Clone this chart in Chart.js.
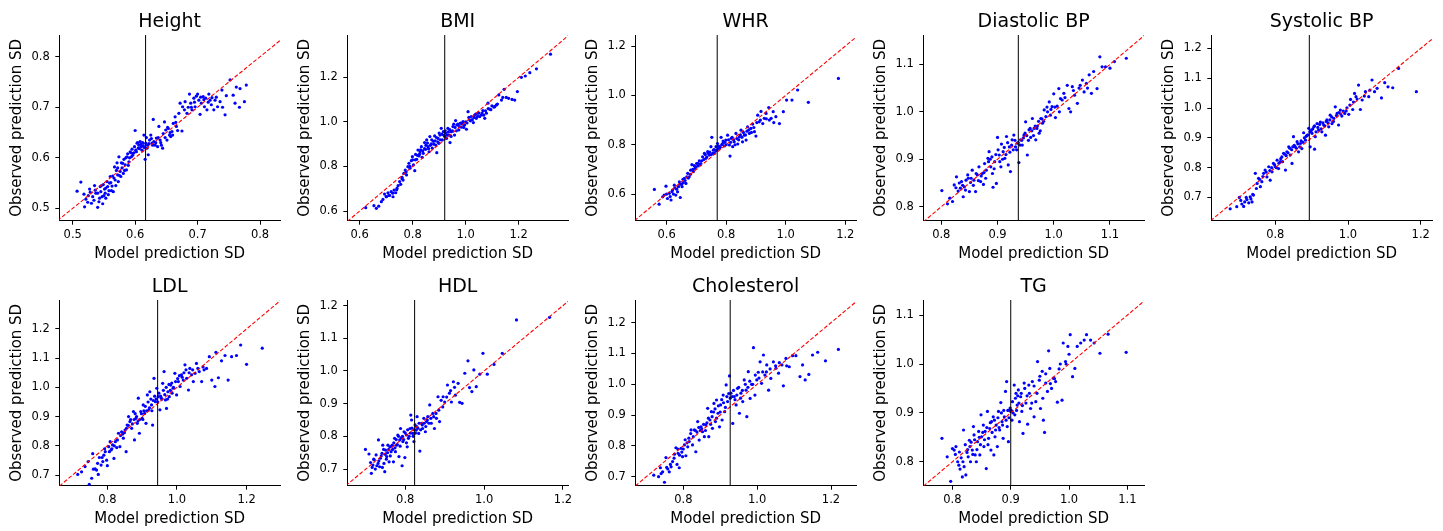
<!DOCTYPE html>
<html>
<head>
<meta charset="utf-8">
<script src="https://cdn.jsdelivr.net/npm/chart.js@4.4.0/dist/chart.umd.min.js"></script>
<style>
  body { margin: 0; background: #fff; width: 1443px; height: 531px; position: relative; overflow: hidden; }
  canvas { position: absolute; }
</style>
</head>
<body>
<script>
// Scatter points: [model SD, observed SD]
const heightPts = [[0.507,0.534],[0.513,0.552],[0.519,0.503],[0.518,0.528],[0.521,0.518],[0.524,0.512],[0.527,0.538],[0.528,0.532],[0.532,0.523],[0.534,0.516],[0.536,0.536],[0.537,0.530],[0.540,0.502],[0.542,0.513],[0.544,0.543],[0.545,0.533],[0.547,0.523],[0.548,0.509],[0.549,0.547],[0.551,0.538],[0.552,0.530],[0.553,0.520],[0.555,0.553],[0.556,0.543],[0.558,0.535],[0.560,0.563],[0.561,0.551],[0.563,0.544],[0.564,0.564],[0.565,0.533],[0.567,0.582],[0.568,0.556],[0.570,0.575],[0.571,0.590],[0.572,0.566],[0.573,0.553],[0.574,0.602],[0.576,0.573],[0.577,0.563],[0.579,0.580],[0.580,0.589],[0.581,0.569],[0.582,0.597],[0.584,0.586],[0.586,0.576],[0.587,0.602],[0.588,0.608],[0.590,0.592],[0.592,0.612],[0.594,0.602],[0.595,0.617],[0.597,0.609],[0.599,0.622],[0.600,0.654],[0.602,0.612],[0.603,0.629],[0.605,0.619],[0.606,0.625],[0.608,0.632],[0.610,0.622],[0.611,0.615],[0.613,0.624],[0.614,0.645],[0.616,0.597],[0.617,0.629],[0.619,0.619],[0.621,0.606],[0.623,0.635],[0.625,0.645],[0.627,0.629],[0.629,0.676],[0.630,0.632],[0.632,0.625],[0.634,0.639],[0.636,0.622],[0.638,0.662],[0.640,0.635],[0.642,0.625],[0.644,0.619],[0.645,0.648],[0.647,0.671],[0.649,0.655],[0.651,0.635],[0.653,0.658],[0.655,0.645],[0.657,0.642],[0.659,0.652],[0.661,0.668],[0.664,0.681],[0.666,0.662],[0.668,0.654],[0.670,0.688],[0.672,0.708],[0.675,0.653],[0.676,0.701],[0.679,0.695],[0.680,0.711],[0.683,0.688],[0.685,0.700],[0.687,0.726],[0.689,0.708],[0.691,0.695],[0.694,0.718],[0.696,0.701],[0.698,0.722],[0.700,0.726],[0.702,0.714],[0.704,0.686],[0.706,0.708],[0.709,0.721],[0.711,0.701],[0.713,0.718],[0.715,0.695],[0.718,0.726],[0.720,0.714],[0.723,0.719],[0.726,0.695],[0.728,0.714],[0.732,0.701],[0.736,0.711],[0.739,0.734],[0.744,0.685],[0.746,0.723],[0.752,0.754],[0.757,0.724],[0.760,0.708],[0.768,0.737],[0.775,0.711],[0.778,0.744],
  [0.525,0.525],[0.530,0.510],[0.535,0.545],[0.540,0.530],[0.543,0.520],[0.546,0.545],[0.550,0.525],[0.553,0.540],[0.557,0.527],[0.559,0.550],[0.562,0.535],[0.566,0.560],[0.569,0.545],[0.572,0.580],[0.575,0.565],[0.578,0.590],[0.583,0.575],[0.585,0.600],[0.589,0.585],[0.591,0.600],[0.593,0.610],[0.596,0.605],[0.598,0.610],[0.601,0.615],[0.604,0.630],[0.607,0.618],[0.609,0.627],[0.612,0.630],[0.615,0.620],[0.618,0.640],[0.620,0.625],[0.622,0.628],[0.626,0.638],[0.628,0.625],[0.633,0.630],[0.637,0.640],[0.641,0.630],[0.648,0.640],[0.652,0.660],[0.656,0.650],[0.660,0.645],[0.665,0.670],[0.690,0.700],[0.695,0.710],[0.705,0.720],[0.710,0.715],[0.717,0.710],[0.722,0.705],[0.730,0.720],[0.740,0.700],[0.762,0.740],[0.767,0.700]];
const bmiPts = [[0.623,0.615],[0.654,0.624],[0.663,0.612],[0.672,0.622],[0.682,0.642],[0.688,0.652],[0.694,0.676],[0.701,0.664],[0.707,0.682],[0.713,0.670],[0.719,0.687],[0.726,0.664],[0.730,0.694],[0.736,0.682],[0.741,0.702],[0.745,0.714],[0.751,0.732],[0.755,0.720],[0.760,0.751],[0.764,0.739],[0.767,0.769],[0.772,0.784],[0.777,0.762],[0.782,0.799],[0.786,0.814],[0.790,0.792],[0.795,0.826],[0.799,0.844],[0.803,0.807],[0.808,0.781],[0.811,0.854],[0.815,0.832],[0.820,0.874],[0.824,0.847],[0.828,0.866],[0.833,0.889],[0.836,0.841],[0.840,0.859],[0.845,0.907],[0.849,0.877],[0.853,0.919],[0.858,0.889],[0.862,0.866],[0.865,0.934],[0.870,0.901],[0.874,0.882],[0.878,0.913],[0.883,0.937],[0.887,0.896],[0.891,0.862],[0.896,0.926],[0.899,0.904],[0.903,0.941],[0.908,0.971],[0.912,0.919],[0.916,0.956],[0.921,0.934],[0.925,0.949],[0.928,0.926],[0.933,0.971],[0.937,0.941],[0.941,0.907],[0.946,0.956],[0.952,0.979],[0.958,0.941],[0.962,1.006],[0.967,0.986],[0.974,0.964],[0.979,0.994],[0.984,0.976],[0.990,1.001],[0.996,0.986],[1.003,0.967],[1.009,1.046],[1.015,1.009],[1.021,1.024],[1.029,0.997],[1.034,1.031],[1.040,1.016],[1.047,1.039],[1.053,1.024],[1.059,1.031],[1.065,1.051],[1.072,1.016],[1.078,1.039],[1.084,1.084],[1.091,1.057],[1.099,1.072],[1.107,1.066],[1.116,1.076],[1.125,1.121],[1.135,1.098],[1.145,1.146],[1.153,1.110],[1.162,1.106],[1.175,1.101],[1.185,1.098],[1.195,1.136],[1.210,1.200],[1.225,1.206],[1.242,1.221],[1.267,1.238],[1.320,1.304],
  [0.700,0.665],[0.710,0.670],[0.725,0.680],[0.740,0.695],[0.760,0.745],[0.775,0.775],[0.790,0.800],[0.800,0.830],[0.810,0.830],[0.818,0.850],[0.826,0.855],[0.830,0.875],[0.838,0.870],[0.845,0.880],[0.850,0.895],[0.856,0.905],[0.860,0.880],[0.867,0.895],[0.872,0.920],[0.880,0.900],[0.885,0.915],[0.890,0.930],[0.895,0.910],[0.900,0.950],[0.905,0.920],[0.910,0.945],[0.918,0.940],[0.923,0.960],[0.930,0.940],[0.935,0.955],[0.940,0.965],[0.945,0.935],[0.950,0.960],[0.955,0.990],[0.960,0.975],[0.965,0.960],[0.970,0.990],[0.976,0.980],[0.982,0.995],[0.988,0.990],[0.993,0.975],[1.000,1.000],[1.005,0.995],[1.012,1.020],[1.018,1.005],[1.025,1.010],[1.032,1.020],[1.038,1.035],[1.045,1.025],[1.050,1.040],[1.062,1.040],[1.068,1.030],[1.075,1.050],[1.085,1.060],[1.095,1.055],[1.110,1.070],[1.120,1.080],[1.140,1.110]];
const whrPts = [[0.559,0.619],[0.575,0.559],[0.587,0.589],[0.592,0.596],[0.598,0.632],[0.603,0.582],[0.609,0.603],[0.615,0.576],[0.620,0.616],[0.626,0.636],[0.631,0.596],[0.637,0.609],[0.643,0.650],[0.646,0.586],[0.652,0.630],[0.656,0.646],[0.660,0.664],[0.665,0.643],[0.671,0.684],[0.676,0.670],[0.681,0.697],[0.685,0.719],[0.690,0.691],[0.695,0.704],[0.701,0.724],[0.705,0.714],[0.710,0.735],[0.715,0.724],[0.721,0.751],[0.727,0.765],[0.732,0.745],[0.738,0.772],[0.743,0.758],[0.749,0.792],[0.752,0.830],[0.757,0.778],[0.761,0.765],[0.766,0.792],[0.771,0.805],[0.777,0.785],[0.783,0.830],[0.788,0.805],[0.794,0.795],[0.799,0.819],[0.805,0.839],[0.811,0.799],[0.813,0.754],[0.817,0.826],[0.822,0.792],[0.827,0.812],[0.833,0.846],[0.839,0.803],[0.844,0.832],[0.850,0.859],[0.855,0.812],[0.861,0.839],[0.867,0.819],[0.872,0.873],[0.878,0.846],[0.883,0.866],[0.889,0.884],[0.895,0.853],[0.900,0.835],[0.906,0.920],[0.911,0.893],[0.917,0.935],[0.923,0.886],[0.928,0.907],[0.934,0.927],[0.943,0.951],[0.951,0.907],[0.958,0.934],[0.967,0.914],[0.979,0.886],[0.992,0.934],[1.003,0.981],[1.021,0.981],[1.040,1.022],[1.076,0.972],[1.177,1.069],
  [0.600,0.600],[0.612,0.590],[0.618,0.610],[0.623,0.600],[0.628,0.625],[0.634,0.620],[0.640,0.630],[0.645,0.640],[0.650,0.640],[0.655,0.660],[0.662,0.655],[0.668,0.670],[0.673,0.665],[0.680,0.680],[0.688,0.700],[0.693,0.715],[0.698,0.710],[0.705,0.725],[0.712,0.720],[0.718,0.735],[0.725,0.740],[0.730,0.760],[0.735,0.750],[0.740,0.765],[0.745,0.770],[0.750,0.760],[0.755,0.765],[0.760,0.780],[0.765,0.775],[0.770,0.780],[0.775,0.795],[0.780,0.790],[0.785,0.800],[0.790,0.815],[0.796,0.810],[0.800,0.800],[0.808,0.820],[0.815,0.810],[0.820,0.830],[0.825,0.820],[0.830,0.800],[0.836,0.825],[0.842,0.820],[0.848,0.840],[0.853,0.830],[0.858,0.850],[0.865,0.840],[0.870,0.855],[0.876,0.860],[0.885,0.850],[0.893,0.870],[0.903,0.890],[0.915,0.900],[0.935,0.905],[0.945,0.900],[0.960,0.890]];
const diaPts = [[0.801,0.834],[0.811,0.806],[0.815,0.818],[0.820,0.811],[0.823,0.846],[0.827,0.863],[0.830,0.833],[0.834,0.839],[0.836,0.853],[0.839,0.821],[0.841,0.842],[0.844,0.856],[0.847,0.867],[0.850,0.832],[0.852,0.851],[0.855,0.877],[0.858,0.856],[0.861,0.832],[0.864,0.867],[0.867,0.884],[0.870,0.853],[0.873,0.870],[0.875,0.847],[0.877,0.891],[0.880,0.877],[0.883,0.902],[0.885,0.916],[0.888,0.884],[0.891,0.870],[0.892,0.841],[0.895,0.895],[0.898,0.849],[0.900,0.946],[0.903,0.909],[0.906,0.884],[0.907,0.932],[0.910,0.916],[0.913,0.902],[0.916,0.948],[0.919,0.888],[0.921,0.926],[0.923,0.874],[0.926,0.941],[0.929,0.951],[0.932,0.926],[0.935,0.934],[0.938,0.893],[0.941,0.941],[0.944,0.930],[0.947,0.951],[0.950,0.979],[0.953,0.909],[0.956,0.962],[0.959,0.946],[0.962,0.986],[0.965,0.965],[0.968,0.941],[0.971,0.970],[0.974,0.955],[0.977,0.986],[0.980,0.976],[0.983,1.004],[0.986,0.990],[0.989,1.000],[0.992,1.021],[0.994,0.993],[0.997,1.011],[1.000,1.038],[1.003,0.988],[1.006,1.012],[1.009,1.049],[1.012,1.028],[1.015,1.025],[1.018,1.039],[1.024,1.056],[1.027,1.007],[1.030,1.000],[1.033,1.053],[1.037,1.035],[1.042,1.018],[1.047,1.056],[1.051,1.067],[1.054,1.042],[1.058,1.060],[1.063,1.078],[1.067,1.039],[1.071,1.085],[1.077,1.049],[1.082,1.116],[1.086,1.095],[1.092,1.095],[1.100,1.092],[1.108,1.106],[1.129,1.113],
  [0.826,0.840],[0.832,0.850],[0.838,0.845],[0.843,0.835],[0.848,0.860],[0.853,0.860],[0.857,0.845],[0.862,0.870],[0.866,0.855],[0.871,0.865],[0.876,0.872],[0.879,0.860],[0.884,0.895],[0.887,0.900],[0.890,0.905],[0.894,0.880],[0.897,0.910],[0.901,0.920],[0.904,0.895],[0.909,0.900],[0.912,0.925],[0.915,0.910],[0.918,0.935],[0.922,0.915],[0.925,0.930],[0.928,0.920],[0.931,0.940],[0.934,0.920],[0.937,0.935],[0.940,0.930],[0.943,0.940],[0.946,0.945],[0.949,0.955],[0.952,0.950],[0.955,0.940],[0.958,0.965],[0.961,0.960],[0.964,0.950],[0.967,0.970],[0.970,0.965],[0.973,0.980],[0.976,0.960],[0.979,0.985],[0.982,0.980],[0.988,1.010],[0.995,1.005],[1.002,1.010],[1.010,1.000],[1.020,1.030],[1.035,1.045],[1.045,1.050],[1.060,1.050]];
const sysPts = [[0.676,0.662],[0.694,0.669],[0.701,0.700],[0.708,0.678],[0.716,0.685],[0.722,0.693],[0.727,0.682],[0.731,0.702],[0.736,0.685],[0.740,0.708],[0.745,0.781],[0.750,0.747],[0.754,0.764],[0.759,0.736],[0.763,0.753],[0.768,0.781],[0.772,0.792],[0.777,0.769],[0.782,0.803],[0.786,0.758],[0.791,0.786],[0.795,0.814],[0.800,0.803],[0.805,0.825],[0.809,0.797],[0.814,0.820],[0.818,0.836],[0.823,0.848],[0.828,0.792],[0.832,0.853],[0.837,0.870],[0.841,0.842],[0.846,0.814],[0.850,0.904],[0.855,0.870],[0.860,0.887],[0.864,0.853],[0.869,0.881],[0.873,0.864],[0.878,0.917],[0.883,0.892],[0.887,0.908],[0.892,0.932],[0.896,0.870],[0.901,0.915],[0.906,0.937],[0.908,0.862],[0.910,0.904],[0.915,0.948],[0.919,0.926],[0.924,0.953],[0.928,0.920],[0.933,0.943],[0.938,0.909],[0.942,0.960],[0.947,0.937],[0.951,0.976],[0.956,0.948],[0.961,0.965],[0.965,1.004],[0.970,0.982],[0.974,0.943],[0.979,0.993],[0.983,0.973],[0.991,0.982],[0.997,1.001],[1.002,0.979],[1.007,1.029],[1.013,0.995],[1.018,1.049],[1.022,1.038],[1.029,1.077],[1.034,0.995],[1.039,1.027],[1.048,1.055],[1.057,1.038],[1.066,1.094],[1.073,1.055],[1.080,1.066],[1.092,1.034],[1.101,1.085],[1.110,1.071],[1.123,1.068],[1.139,1.133],[1.188,1.055],
  [0.705,0.690],[0.713,0.670],[0.720,0.700],[0.733,0.695],[0.738,0.710],[0.748,0.730],[0.757,0.760],[0.766,0.770],[0.775,0.785],[0.785,0.790],[0.790,0.800],[0.798,0.810],[0.803,0.800],[0.810,0.815],[0.815,0.830],[0.820,0.820],[0.826,0.845],[0.830,0.840],[0.835,0.850],[0.840,0.865],[0.845,0.860],[0.848,0.870],[0.852,0.875],[0.858,0.865],[0.862,0.880],[0.867,0.870],[0.871,0.890],[0.876,0.885],[0.880,0.900],[0.885,0.905],[0.890,0.910],[0.895,0.920],[0.899,0.925],[0.903,0.930],[0.908,0.940],[0.912,0.920],[0.917,0.935],[0.922,0.945],[0.926,0.930],[0.931,0.950],[0.936,0.940],[0.940,0.955],[0.945,0.950],[0.950,0.960],[0.955,0.970],[0.960,0.955],[0.968,0.975],[0.975,0.985],[0.980,0.980],[0.987,0.990],[0.995,0.990],[1.005,1.010],[1.015,1.020],[1.025,1.030],[1.045,1.040],[1.060,1.060]];
const ldlPts = [[0.715,0.702],[0.726,0.711],[0.736,0.729],[0.745,0.746],[0.748,0.668],[0.755,0.689],[0.758,0.773],[0.765,0.721],[0.769,0.717],[0.774,0.702],[0.777,0.760],[0.782,0.734],[0.787,0.746],[0.790,0.768],[0.794,0.780],[0.798,0.751],[0.800,0.732],[0.804,0.797],[0.808,0.814],[0.811,0.786],[0.815,0.803],[0.819,0.757],[0.823,0.814],[0.827,0.794],[0.832,0.843],[0.836,0.797],[0.841,0.848],[0.846,0.826],[0.851,0.854],[0.854,0.780],[0.857,0.871],[0.861,0.900],[0.865,0.883],[0.870,0.860],[0.875,0.917],[0.878,0.820],[0.882,0.894],[0.886,0.877],[0.889,0.963],[0.892,0.843],[0.896,0.917],[0.900,0.894],[0.903,0.940],[0.907,0.911],[0.911,0.877],[0.915,0.974],[0.919,0.923],[0.922,0.985],[0.927,0.940],[0.930,0.871],[0.934,1.031],[0.938,0.951],[0.942,0.997],[0.946,0.968],[0.951,0.923],[0.955,0.963],[0.959,1.014],[0.963,1.054],[0.967,0.957],[0.970,0.928],[0.974,0.985],[0.978,0.968],[0.982,1.008],[0.986,0.980],[0.989,0.997],[0.994,1.048],[0.999,0.974],[1.004,1.020],[1.009,1.003],[1.013,1.043],[1.018,1.025],[1.023,1.077],[1.028,1.031],[1.033,0.991],[1.037,1.065],[1.042,1.043],[1.047,1.020],[1.052,1.048],[1.056,1.082],[1.064,1.054],[1.071,1.020],[1.078,1.060],[1.085,1.065],[1.093,1.105],[1.100,1.025],[1.109,1.003],[1.112,1.120],[1.119,1.033],[1.128,1.091],[1.138,1.109],[1.147,1.025],[1.157,1.105],[1.171,1.109],[1.183,1.145],[1.200,1.079],[1.245,1.134],
  [0.760,0.720],[0.772,0.740],[0.785,0.760],[0.792,0.790],[0.806,0.780],[0.813,0.790],[0.820,0.800],[0.829,0.820],[0.838,0.835],[0.844,0.840],[0.849,0.845],[0.855,0.860],[0.860,0.870],[0.867,0.890],[0.872,0.875],[0.877,0.890],[0.880,0.910],[0.884,0.900],[0.888,0.885],[0.893,0.890],[0.898,0.910],[0.902,0.890],[0.905,0.920],[0.909,0.935],[0.913,0.920],[0.917,0.950],[0.921,0.930],[0.925,0.960],[0.928,0.920],[0.932,0.955],[0.936,0.970],[0.940,0.960],[0.945,0.950],[0.948,0.980],[0.953,0.970],[0.957,0.960],[0.961,0.990],[0.965,0.975],[0.969,1.000],[0.973,0.960],[0.977,1.010],[0.981,0.990],[0.985,1.015],[0.990,1.000],[0.996,1.020],[1.002,1.030],[1.007,1.040],[1.015,1.035],[1.020,1.050],[1.026,1.060],[1.035,1.050],[1.045,1.060],[1.060,1.065],[1.075,1.070]];
const hdlPts = [[0.699,0.760],[0.708,0.746],[0.714,0.687],[0.718,0.712],[0.721,0.728],[0.724,0.700],[0.726,0.743],[0.731,0.717],[0.732,0.789],[0.735,0.707],[0.737,0.733],[0.741,0.748],[0.743,0.773],[0.746,0.717],[0.748,0.692],[0.750,0.758],[0.753,0.738],[0.756,0.773],[0.759,0.722],[0.761,0.768],[0.764,0.753],[0.767,0.773],[0.770,0.722],[0.773,0.794],[0.775,0.753],[0.778,0.773],[0.781,0.804],[0.784,0.738],[0.786,0.789],[0.788,0.824],[0.792,0.710],[0.794,0.784],[0.797,0.814],[0.799,0.735],[0.803,0.804],[0.805,0.768],[0.808,0.794],[0.812,0.824],[0.814,0.865],[0.816,0.850],[0.819,0.809],[0.822,0.784],[0.825,0.835],[0.828,0.819],[0.830,0.860],[0.834,0.809],[0.837,0.755],[0.841,0.840],[0.844,0.824],[0.847,0.855],[0.851,0.814],[0.854,0.845],[0.857,0.860],[0.862,0.896],[0.866,0.840],[0.870,0.870],[0.874,0.824],[0.879,0.855],[0.883,0.921],[0.887,0.845],[0.891,0.910],[0.896,0.921],[0.900,0.905],[0.907,0.957],[0.912,0.932],[0.917,0.905],[0.922,0.967],[0.927,0.926],[0.934,0.962],[0.938,0.904],[0.944,0.901],[0.951,0.993],[0.959,1.031],[0.963,0.949],[0.969,0.937],[0.974,1.003],[0.980,0.952],[0.989,0.990],[0.997,1.054],[1.008,0.990],[1.025,1.020],[1.046,1.054],[1.082,1.156],[1.166,1.164],
  [0.712,0.720],[0.716,0.705],[0.720,0.730],[0.728,0.710],[0.733,0.725],[0.739,0.740],[0.742,0.705],[0.745,0.760],[0.749,0.745],[0.752,0.730],[0.755,0.750],[0.758,0.760],[0.762,0.740],[0.765,0.770],[0.768,0.760],[0.771,0.780],[0.774,0.765],[0.777,0.790],[0.780,0.775],[0.783,0.800],[0.787,0.770],[0.790,0.795],[0.793,0.800],[0.796,0.790],[0.800,0.810],[0.803,0.780],[0.806,0.820],[0.810,0.800],[0.813,0.810],[0.817,0.825],[0.820,0.800],[0.823,0.820],[0.826,0.810],[0.829,0.830],[0.832,0.825],[0.835,0.840],[0.839,0.820],[0.843,0.835],[0.848,0.840],[0.852,0.830],[0.856,0.850],[0.860,0.840],[0.865,0.855],[0.872,0.860],[0.878,0.870],[0.885,0.880],[0.895,0.890],[0.905,0.920],[0.915,0.940],[0.925,0.950]];
const cholPts = [[0.720,0.705],[0.733,0.700],[0.738,0.729],[0.744,0.716],[0.749,0.682],[0.753,0.762],[0.758,0.725],[0.762,0.716],[0.767,0.732],[0.771,0.749],[0.776,0.773],[0.780,0.794],[0.783,0.740],[0.786,0.776],[0.789,0.729],[0.794,0.792],[0.798,0.765],[0.803,0.803],[0.807,0.768],[0.812,0.797],[0.816,0.814],[0.821,0.852],[0.825,0.803],[0.830,0.852],[0.834,0.781],[0.839,0.879],[0.843,0.819],[0.848,0.862],[0.852,0.846],[0.857,0.830],[0.861,0.868],[0.866,0.922],[0.869,0.830],[0.872,0.884],[0.876,0.911],[0.879,0.857],[0.883,0.938],[0.887,0.879],[0.890,0.949],[0.894,0.906],[0.898,0.862],[0.901,0.933],[0.905,0.884],[0.908,0.965],[0.912,0.911],[0.916,0.998],[0.920,0.944],[0.925,1.027],[0.929,0.971],[0.934,0.873],[0.938,0.960],[0.943,0.933],[0.947,0.987],[0.952,0.906],[0.956,0.971],[0.961,0.944],[0.965,1.014],[0.970,0.981],[0.972,0.895],[0.976,1.041],[0.981,0.954],[0.985,1.000],[0.990,1.119],[0.994,0.965],[0.999,1.014],[1.003,1.039],[1.008,1.073],[1.012,1.003],[1.017,1.095],[1.021,1.030],[1.026,1.063],[1.031,0.981],[1.037,1.019],[1.044,1.073],[1.051,1.052],[1.058,1.036],[1.067,1.063],[1.071,0.995],[1.078,1.084],[1.087,1.057],[1.096,1.093],[1.105,1.093],[1.116,1.025],[1.123,1.063],[1.130,1.014],[1.140,1.032],[1.150,1.095],[1.164,1.104],[1.185,1.076],[1.220,1.113],
  [0.740,0.710],[0.755,0.730],[0.765,0.740],[0.775,0.760],[0.785,0.790],[0.790,0.770],[0.796,0.780],[0.800,0.790],[0.805,0.820],[0.810,0.810],[0.815,0.825],[0.820,0.840],[0.827,0.830],[0.833,0.850],[0.837,0.845],[0.842,0.860],[0.846,0.850],[0.850,0.855],[0.855,0.870],[0.860,0.850],[0.864,0.875],[0.868,0.890],[0.874,0.870],[0.878,0.895],[0.882,0.910],[0.886,0.920],[0.890,0.890],[0.895,0.930],[0.900,0.910],[0.904,0.950],[0.909,0.940],[0.914,0.925],[0.918,0.960],[0.923,0.970],[0.927,0.955],[0.932,0.960],[0.936,0.980],[0.940,0.950],[0.945,0.965],[0.950,0.990],[0.955,0.955],[0.960,0.980],[0.968,1.000],[0.975,0.990],[0.980,1.010],[0.988,1.000],[0.995,1.030],[1.005,1.020],[1.015,1.040],[1.025,1.040],[1.035,1.050],[1.050,1.060],[1.060,1.070],[1.080,1.060]];
const tgPts = [[0.782,0.848],[0.791,0.810],[0.797,0.760],[0.800,0.827],[0.803,0.824],[0.806,0.831],[0.809,0.800],[0.811,0.793],[0.813,0.785],[0.815,0.808],[0.817,0.769],[0.819,0.865],[0.820,0.790],[0.823,0.773],[0.825,0.819],[0.827,0.810],[0.829,0.844],[0.830,0.831],[0.831,0.800],[0.834,0.824],[0.836,0.872],[0.837,0.855],[0.839,0.814],[0.841,0.800],[0.843,0.841],[0.845,0.862],[0.847,0.814],[0.849,0.896],[0.850,0.851],[0.853,0.875],[0.854,0.831],[0.856,0.862],[0.858,0.786],[0.860,0.903],[0.862,0.848],[0.864,0.868],[0.866,0.824],[0.867,0.882],[0.870,0.892],[0.871,0.814],[0.873,0.851],[0.875,0.875],[0.877,0.831],[0.879,0.903],[0.881,0.865],[0.883,0.921],[0.885,0.882],[0.887,0.848],[0.889,0.892],[0.891,0.944],[0.893,0.964],[0.894,0.872],[0.896,0.841],[0.898,0.906],[0.900,0.903],[0.902,0.885],[0.903,0.923],[0.906,0.957],[0.907,0.896],[0.909,0.940],[0.911,0.916],[0.913,0.947],[0.915,0.882],[0.917,0.933],[0.919,0.903],[0.921,0.858],[0.923,0.961],[0.926,0.920],[0.929,0.877],[0.931,0.957],[0.934,0.909],[0.937,0.964],[0.940,0.892],[0.943,0.923],[0.946,1.005],[0.949,0.967],[0.951,0.909],[0.954,0.985],[0.956,0.885],[0.958,0.860],[0.960,0.961],[0.963,0.944],[0.965,1.027],[0.967,0.991],[0.970,0.950],[0.973,0.971],[0.977,0.964],[0.980,0.922],[0.985,1.000],[0.988,0.926],[0.990,1.043],[0.994,1.005],[0.998,1.036],[1.002,1.060],[1.006,0.974],[1.010,0.991],[1.014,1.036],[1.020,1.043],[1.026,1.049],[1.030,1.060],[1.037,1.049],[1.043,1.043],[1.053,1.022],[1.067,1.061],[1.098,1.024],
  [0.805,0.815],[0.812,0.820],[0.818,0.800],[0.822,0.835],[0.826,0.825],[0.832,0.840],[0.835,0.815],[0.838,0.845],[0.842,0.825],[0.846,0.850],[0.848,0.835],[0.852,0.860],[0.855,0.845],[0.859,0.870],[0.861,0.835],[0.865,0.880],[0.868,0.860],[0.872,0.885],[0.874,0.865],[0.878,0.890],[0.880,0.870],[0.884,0.900],[0.886,0.875],[0.888,0.905],[0.892,0.885],[0.895,0.905],[0.897,0.890],[0.899,0.910],[0.901,0.905],[0.904,0.900],[0.908,0.930],[0.910,0.905],[0.912,0.935],[0.914,0.920],[0.918,0.940],[0.920,0.915],[0.924,0.950],[0.928,0.935],[0.932,0.940],[0.936,0.920],[0.940,0.955],[0.945,0.940],[0.950,0.975],[0.955,0.930],[0.960,0.980],[0.968,0.960],[0.975,0.970],[0.983,0.990],[0.995,1.000],[1.000,1.020]];

const titles = ['Height', 'BMI', 'WHR', 'Diastolic BP', 'Systolic BP', 'LDL', 'HDL', 'Cholesterol', 'TG'];
const allPts = [heightPts, bmiPts, whrPts, diaPts, sysPts, ldlPts, hdlPts, cholPts, tgPts];
// mean model SD (vertical line)
const means = [0.6167, 0.921, 0.770, 0.937, 0.8936, 0.9445, 0.8237, 0.927, 0.900];
// axis limits
const xMin = [0.4785, 0.5535, 0.495, 0.768, 0.624, 0.662, 0.653, 0.670, 0.750];
const xMax = [0.832, 1.386, 1.236, 1.1605, 1.231, 1.296, 1.2127, 1.2677, 1.1286];
const yMin = [0.4755, 0.5566, 0.492, 0.7705, 0.622, 0.6635, 0.649, 0.6708, 0.751];
const yMax = [0.843, 1.39, 1.245, 1.162, 1.245, 1.299, 1.217, 1.2736, 1.131];
// tick values
const xTicks = [
  [0.5, 0.6, 0.7, 0.8], [0.6, 0.8, 1.0, 1.2], [0.6, 0.8, 1.0, 1.2], [0.8, 0.9, 1.0, 1.1], [0.8, 1.0, 1.2],
  [0.8, 1.0, 1.2], [0.8, 1.0, 1.2], [0.8, 1.0, 1.2], [0.8, 0.9, 1.0, 1.1]
];
const yTicks = [
  [0.5, 0.6, 0.7, 0.8], [0.6, 0.8, 1.0, 1.2], [0.6, 0.8, 1.0, 1.2], [0.8, 0.9, 1.0, 1.1], [0.7, 0.8, 0.9, 1.0, 1.1, 1.2],
  [0.7, 0.8, 0.9, 1.0, 1.1, 1.2], [0.7, 0.8, 0.9, 1.0, 1.1, 1.2], [0.7, 0.8, 0.9, 1.0, 1.1, 1.2], [0.8, 0.9, 1.0, 1.1]
];

const FONT = 'DejaVu Sans';
const CELL_W = 288, CELL_H = 265;

// title centred over the plot area, like matplotlib's ax.set_title
const panelTitle = {
    id: 'panelTitle',
    afterDraw(chart, args, opts) {
        const { ctx, chartArea } = chart;
        ctx.save();
        ctx.font = '19px "' + FONT + '"';
        ctx.fillStyle = '#000';
        ctx.textAlign = 'center';
        ctx.textBaseline = 'alphabetic';
        ctx.fillText(opts.text, (chartArea.left + chartArea.right) / 2, 26.7);
        ctx.restore();
    }
};

function axis(ticks, min, max, label, isY) {
    return {
        type: 'linear',
        min: min,
        max: max,
        afterBuildTicks: s => { s.ticks = ticks.map(v => ({ value: v })); },
        afterFit: s => {
            if (isY) s.width = 59.3;
            else s.height = 44.3;
        },
        ticks: {
            color: '#000',
            font: { family: FONT, size: 11.5 },
            padding: isY ? 5.5 : 3.5,
            callback: v => v.toFixed(1),
            maxRotation: 0,
            autoSkip: false
        },
        grid: { display: true, drawOnChartArea: false, drawTicks: true, tickLength: 4, tickColor: '#000', tickWidth: 1 },
        border: { display: true, color: '#000', width: 1 },
        title: {
            display: true,
            text: label,
            color: '#000',
            font: { family: FONT, size: 15 },
            padding: isY ? { top: 8.5, bottom: 0 } : { top: 0, bottom: 2 }
        }
    };
}

titles.forEach((title, i) => {
    const row = Math.floor(i / 5), col = i % 5;
    const canvas = document.createElement('canvas');
    canvas.width = CELL_W;
    canvas.height = CELL_H;
    canvas.style.left = (col * CELL_W) + 'px';
    canvas.style.top = (row * CELL_H) + 'px';
    document.body.appendChild(canvas);

    const lo = Math.min(xMin[i], yMin[i]);
    const hi = Math.max(xMax[i], yMax[i]);

    new Chart(canvas.getContext('2d'), {
        type: 'scatter',
        plugins: [panelTitle],
        data: {
            datasets: [
                {
                    // mean line
                    data: [{ x: means[i], y: yMin[i] }, { x: means[i], y: yMax[i] }],
                    showLine: true,
                    borderColor: '#000',
                    borderWidth: 1,
                    pointRadius: 0
                },
                {
                    // identity line
                    data: [{ x: lo, y: lo }, { x: hi, y: hi }],
                    showLine: true,
                    borderColor: '#ff0000',
                    borderWidth: 1.1,
                    borderDash: [4, 2],
                    pointRadius: 0
                },
                {
                    data: allPts[i].map(p => ({ x: p[0], y: p[1] })),
                    backgroundColor: '#0000ff',
                    borderWidth: 0,
                    pointRadius: 1.6
                }
            ]
        },
        options: {
            responsive: false,
            animation: false,
            devicePixelRatio: 1,
            layout: { padding: { left: 0, right: 8, top: 35, bottom: 0 } },
            plugins: {
                legend: { display: false },
                tooltip: { enabled: false },
                title: { display: false },
                panelTitle: { text: title }
            },
            scales: {
                x: axis(xTicks[i], xMin[i], xMax[i], 'Model prediction SD', false),
                y: axis(yTicks[i], yMin[i], yMax[i], 'Observed prediction SD', true)
            }
        }
    });
});
</script>
</body>
</html>
